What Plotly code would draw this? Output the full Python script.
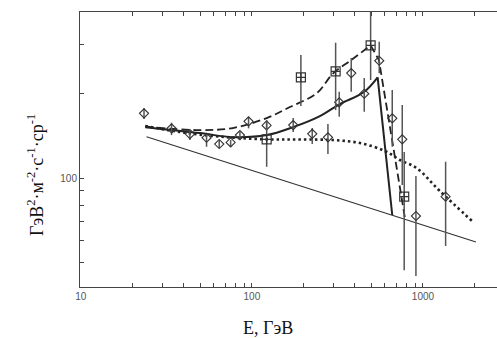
import plotly.graph_objects as go

# --- data ---
# diamonds
dia_E = [23.4, 33.9, 43.4, 54.3, 64.4, 75.1, 85.1, 95.6, 121.9, 174.4, 225.3, 278.3, 324, 380.8, 453.7, 555.2, 661.6, 756.8, 910, 1357]
dia_F = [170.3, 150.5, 143.6, 139.3, 132.3, 134.1, 142.4, 159.4, 154.2, 154.6, 143.9, 139.8, 186.4, 237.1, 200, 262.4, 163.4, 137.5, 73.2, 85.8]
dia_hi = [177.8, 157.6, 147.5, 144.4, 136.7, 136.7, 146.3, 165.5, 159.8, 163.8, 150.9, 155.9, 203.4, 268.3, 227.6, 306.8, 206.2, 182.3, 101.7, 114.4]
dia_lo = [162.4, 142.4, 136.7, 129.3, 128.0, 129.1, 136.7, 150.5, 148.4, 146.0, 132.3, 121.8, 165.5, 203.4, 172.5, 236.6, 129.3, 94.4, 44.7, 57.2]

# squares
sq_E = [122, 193.4, 308.7, 494.5, 777]
sq_F = [137.5, 228.9, 240.5, 297.8, 85.8]
sq_hi = [161.2, 275, 304.3, 420, 123.8]
sq_lo = [109.7, 180.7, 174.9, 223.9, 46.9]

# power-law line
pl_E = [24.2, 2042]
pl_F = [140.4, 59.1]

# dotted curve
dot_E = [23.8, 37.9, 65, 122, 191, 298, 428.5, 600, 733.6, 918, 1256, 1959]
dot_F = [153.4, 146, 140.6, 137.5, 137.3, 136.7, 133.4, 124.9, 116, 108.6, 89.9, 69.8]

# solid curve
sol_E = [23.8, 49.7, 77.4, 122, 173.8, 249.8, 327, 452, 543.5, 661.6]
sol_F = [152, 144.8, 140, 142.4, 152, 166.5, 183.8, 202.9, 228.9, 73.8]

# dashed curve
das_E = [23.8, 47.5, 77.4, 122, 166.8, 238.9, 298.8, 384.6, 494.5, 553, 785]
das_F = [152.8, 148.4, 150.9, 163.8, 179.3, 200.7, 236.6, 264.9, 297.8, 263.9, 71.9]

x_tickvals = [10, 20, 30, 40, 50, 60, 70, 80, 90, 100, 200, 300, 400, 500, 600, 700, 800, 900, 1000, 2000]
x_ticktext = ["10", " ", " ", " ", " ", " ", " ", " ", " ", "100", " ", " ", " ", " ", " ", " ", " ", " ", "1000", " "]
y_tickvals = [50, 60, 70, 80, 90, 100, 200, 300]
y_ticktext = [" ", " ", " ", " ", " ", "100", " ", " "]

LINE = "#222222"
fig = go.Figure()

fig.add_trace(go.Scatter(x=pl_E, y=pl_F, mode="lines", line=dict(color="#333", width=1.2)))
fig.add_trace(go.Scatter(x=dot_E, y=dot_F, mode="lines", line=dict(color=LINE, width=2.6, dash="2.5px,3px", shape="spline")))
fig.add_trace(go.Scatter(x=sol_E[:-1], y=sol_F[:-1], mode="lines", line=dict(color=LINE, width=2, shape="spline")))
fig.add_trace(go.Scatter(x=sol_E[-2:], y=sol_F[-2:], mode="lines", line=dict(color=LINE, width=2)))
fig.add_trace(go.Scatter(x=das_E[:-2], y=das_F[:-2], mode="lines", line=dict(color=LINE, width=1.8, dash="8px,4px", shape="spline")))
fig.add_trace(go.Scatter(x=das_E[-3:], y=das_F[-3:], mode="lines", line=dict(color=LINE, width=1.8, dash="8px,4px")))

fig.add_trace(go.Scatter(
    x=dia_E, y=dia_F, mode="markers",
    marker=dict(symbol="diamond-open", size=7, color="#333", line=dict(width=1.1, color="#333")),
    error_y=dict(type="data", symmetric=False,
                 array=[h - f for h, f in zip(dia_hi, dia_F)],
                 arrayminus=[f - l for f, l in zip(dia_F, dia_lo)],
                 color="#555", thickness=1.5, width=0)))
fig.add_trace(go.Scatter(
    x=sq_E, y=sq_F, mode="markers",
    marker=dict(symbol="square-cross-open", size=9, color="#333", line=dict(width=1.2, color="#333")),
    error_y=dict(type="data", symmetric=False,
                 array=[h - f for h, f in zip(sq_hi, sq_F)],
                 arrayminus=[f - l for f, l in zip(sq_F, sq_lo)],
                 color="#555", thickness=1.5, width=0)))

fig.update_layout(
    width=497, height=338,
    margin=dict(l=80, r=0, t=12, b=51),
    paper_bgcolor="white", plot_bgcolor="white",
    showlegend=False,
    font=dict(family="Liberation Sans, Arial, sans-serif", size=10, color="#555"),
    xaxis=dict(type="log", range=[0.995, 3.433], tickmode="array", tickvals=x_tickvals, ticktext=x_ticktext,
               tickangle=0, ticks="inside", ticklen=4, tickwidth=1, tickcolor="#444", showline=True,
               linecolor="#444", linewidth=1, mirror="ticks", showgrid=False, zeroline=False,
               tickfont=dict(size=10, color="#555")),
    yaxis=dict(type="log", range=[1.611, 2.593], tickmode="array", tickvals=y_tickvals, ticktext=y_ticktext,
               ticks="inside", ticklen=4, tickwidth=1, tickcolor="#444", showline=True, linecolor="#444", linewidth=1,
               showgrid=False, zeroline=False, tickfont=dict(size=10, color="#555")),
    annotations=[
        dict(text="ГэВ<sup>2</sup>·м<sup>-2</sup>·с<sup>-1</sup>·ср<sup>-1</sup>", textangle=-90,
             xref="paper", yref="paper", x=(35 - 80) / 417, y=(287 - 175) / 275,
             xanchor="center", yanchor="middle", showarrow=False,
             font=dict(family="Liberation Serif, Times New Roman, serif", size=18, color="#111")),
        dict(text="E, ГэВ", xref="paper", yref="paper", x=(268 - 80) / 417, y=(287 - 328) / 275,
             xanchor="center", yanchor="middle", showarrow=False,
             font=dict(family="Liberation Serif, Times New Roman, serif", size=18, color="#111")),
    ],
)

fig.write_html("out.html", config={"displayModeBar": False},
               post_script="document.body.style.margin='0';document.body.style.overflow='hidden';")
